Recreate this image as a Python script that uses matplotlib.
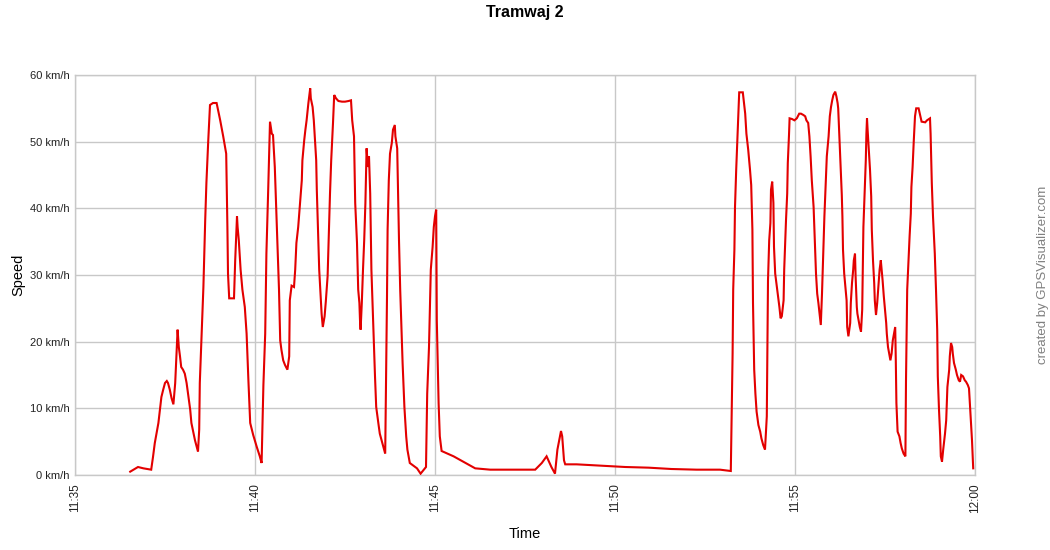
import matplotlib
matplotlib.use("Agg")
import matplotlib.pyplot as plt

# Time in seconds after 11:35:00, speed in km/h
time_s = [92, 105, 114, 127, 130, 133, 139, 142, 144, 147, 150, 153, 155, 158, 161, 164, 167, 168, 171, 173,
          175, 177, 180, 183, 186, 189, 192, 194, 197, 200, 203, 205, 207, 208, 211, 214, 217, 219, 222, 225,
          230, 236, 242, 247, 252, 254, 255, 257, 265, 267, 270, 271, 273, 276, 279, 283, 286, 289, 292, 297,
          303, 308, 311, 314, 317, 319, 322, 325, 328, 330, 333, 336, 340, 342, 344, 347, 350, 354, 357, 358,
          361, 365, 367, 369, 372, 375, 378, 379, 382, 384, 386, 389, 392, 393, 396, 398, 400, 402, 403, 405,
          407, 410, 411, 413, 416, 418, 421, 423, 425, 427, 430, 432, 435, 439, 445, 450, 456, 460, 462, 465,
          467, 470, 472, 474, 475, 476, 478, 480, 482, 484, 486, 488, 490, 492, 494, 497, 500, 502, 504, 506,
          508, 511, 514, 517, 518, 520, 521, 523, 525, 528, 530, 533, 534, 537, 540, 542, 544, 546, 549, 552,
          554, 558, 570, 576, 585, 587, 590, 593, 596, 598, 600, 602, 603, 606, 608, 611, 631, 647, 667, 692,
          742, 767, 778, 786, 794, 800, 804, 810, 812, 815, 817, 836, 875, 917, 956, 994, 1036, 1075, 1093,
          1094, 1096, 1097, 1099, 1100, 1102, 1104, 1106, 1107, 1113, 1115, 1117, 1119, 1122, 1125, 1127, 1129,
          1130, 1132, 1134, 1136, 1139, 1142, 1144, 1147, 1150, 1153, 1154, 1155, 1157, 1159, 1160, 1162, 1164,
          1165, 1167, 1169, 1172, 1174, 1176, 1178, 1181, 1182, 1185, 1187, 1188, 1190, 1191, 1195, 1199, 1203,
          1207, 1210, 1214, 1217, 1219, 1222, 1224, 1226, 1228, 1231, 1233, 1235, 1237, 1239, 1241, 1243, 1245,
          1247, 1249, 1251, 1253, 1256, 1258, 1260, 1262, 1264, 1267, 1269, 1271, 1272, 1275, 1277, 1278, 1279,
          1280, 1282, 1284, 1286, 1287, 1289, 1292, 1293, 1295, 1297, 1298, 1300, 1301, 1303, 1304, 1306, 1308,
          1310, 1312, 1313, 1314, 1316, 1318, 1319, 1320, 1321, 1323, 1325, 1327, 1328, 1330, 1332, 1333, 1335,
          1337, 1339, 1341, 1343, 1344, 1346, 1348, 1350, 1352, 1353, 1355, 1357, 1359, 1361, 1363, 1365, 1367,
          1368, 1369, 1371, 1374, 1376, 1378, 1381, 1384, 1385, 1387, 1389, 1391, 1393, 1394, 1396, 1398, 1400,
          1402, 1406, 1408, 1411, 1417, 1420, 1425, 1426, 1428, 1430, 1433, 1435, 1437, 1438, 1440, 1442, 1443,
          1445, 1447, 1450, 1452, 1454, 1457, 1458, 1460, 1462, 1463, 1465, 1468, 1470, 1473, 1475, 1477, 1480,
          1483, 1485, 1488, 1490, 1493, 1495, 1497]

speed_kmh = [0.5, 1.2, 1.0, 0.8, 2.7, 4.8, 7.8, 10.2, 11.7, 12.8, 13.8, 14.1, 13.8, 12.8, 11.5, 10.6, 13.8, 15.8, 21.8, 19.2,
             17.8, 16.2, 15.8, 15.2, 13.8, 11.8, 9.8, 7.8, 6.5, 5.2, 4.2, 3.5, 6.8, 13.8, 20.8, 28.2, 38.2, 43.8, 50.0, 55.5,
             55.8, 55.8, 53.2, 50.8, 48.2, 37.2, 30.2, 26.5, 26.5, 32.2, 38.8, 37.2, 35.2, 30.8, 27.8, 25.2, 21.2, 14.2, 7.8, 6.0,
             4.2, 2.8, 1.8, 13.5, 21.2, 33.2, 42.8, 53.0, 51.2, 51.0, 46.2, 38.2, 27.8, 20.2, 18.8, 17.2, 16.5, 15.8, 17.8, 26.2,
             28.4, 28.2, 30.8, 34.8, 37.2, 40.8, 44.2, 47.2, 50.2, 51.8, 53.2, 55.8, 58.0, 56.5, 55.2, 53.2, 50.2, 47.2, 42.8, 36.8,
             30.8, 25.8, 24.2, 22.2, 23.8, 26.0, 29.8, 35.8, 42.2, 47.2, 52.8, 57.0, 56.5, 56.1, 56.0, 56.0, 56.1, 56.2, 53.2, 50.8,
             40.8, 34.8, 27.8, 25.8, 23.2, 21.8, 25.8, 30.8, 35.2, 40.8, 49.0, 46.2, 47.8, 42.2, 30.8, 22.8, 14.8, 10.2, 8.8, 7.5,
             6.2, 5.2, 4.2, 3.2, 10.8, 26.8, 36.8, 44.2, 48.2, 49.8, 51.8, 52.5, 50.8, 49.0, 35.2, 27.8, 22.2, 16.8, 10.2, 5.8,
             3.8, 1.8, 1.0, 0.2, 1.2, 12.2, 19.2, 30.8, 34.2, 37.2, 38.8, 39.8, 23.2, 10.8, 5.8, 3.6, 2.8, 2.0, 1.0, 0.8,
             0.8, 0.8, 1.8, 2.8, 1.2, 0.2, 3.8, 6.6, 5.8, 2.2, 1.6, 1.6, 1.4, 1.2, 1.1, 0.9, 0.8, 0.8, 0.6,
             6.5, 18.2, 27.8, 33.8, 40.2, 45.8, 50.5, 54.8, 57.4, 57.4, 55.8, 54.2, 51.2, 48.8, 45.8, 43.5, 36.8,
             25.8, 15.8, 12.2, 9.5, 7.5, 6.5, 5.5, 4.5, 3.8, 8.8, 18.8, 29.2, 35.2, 37.8, 42.8, 44.0, 40.8,
             34.2, 30.2, 28.8, 26.8, 25.2, 23.5, 23.8, 26.2, 30.8, 38.2, 42.2, 46.8, 51.0, 53.5, 53.4, 53.2, 53.5,
             54.2, 54.2, 54.0, 53.8, 53.2, 52.8, 50.8, 47.8, 44.2, 40.2, 35.2, 30.2, 27.2, 25.8, 24.2, 22.5, 27.2,
             33.2, 38.8, 43.2, 47.8, 50.8, 53.8, 55.2, 56.2, 57.0, 57.5, 56.8, 55.8, 55.0, 48.5, 44.5, 42.0, 38.8,
             33.8, 30.2, 28.2, 26.2, 22.2, 20.8, 22.8, 25.8, 28.8, 30.8, 32.2, 33.2, 29.8, 25.2, 24.2, 23.2, 22.2,
             21.5, 24.8, 30.8, 37.2, 42.2, 47.2, 51.2, 53.5, 51.8, 48.8, 45.8, 41.8, 36.8, 32.2, 28.8, 26.2, 24.0,
             25.8, 28.2, 30.8, 32.2, 31.2, 29.2, 26.8, 24.8, 22.8, 21.2, 19.2, 18.2, 17.2, 18.2, 20.2, 21.2, 22.2,
             17.2, 10.8, 6.5, 5.8, 4.8, 4.0, 3.2, 2.8, 14.2, 27.8, 31.8, 35.8, 39.2, 43.2, 46.2, 50.2, 53.8,
             55.0, 55.0, 54.2, 53.0, 52.9, 53.2, 53.5, 51.2, 43.8, 38.8, 33.2, 27.8, 21.8, 14.8, 9.8, 5.8, 2.8,
             2.0, 3.8, 6.2, 8.2, 13.2, 15.8, 17.8, 19.8, 19.2, 18.2, 16.8, 15.8, 15.0, 14.2, 14.0, 15.0, 14.8,
             14.2, 14.0, 13.5, 13.0, 8.2, 5.2, 1.0]

xtick_s = [0, 300, 600, 900, 1200, 1500]
xtick_labels = ["11:35", "11:40", "11:45", "11:50", "11:55", "12:00"]
ytick_vals = [0, 10, 20, 30, 40, 50, 60]
ytick_labels = [f"{v} km/h" for v in ytick_vals]

plt.rcParams["font.family"] = ["Liberation Sans", "DejaVu Sans"]

fig = plt.figure(figsize=(10.5, 5.5), dpi=100)
ax = fig.add_axes([75 / 1050, 75 / 550, 900 / 1050, 400 / 550])

grid_c = "#c8c8c8"
ax.plot(time_s, speed_kmh, color="#e30000", lw=1.5, solid_joinstyle="miter", zorder=3)

ax.set_xlim(0, 1500)
ax.set_ylim(0, 60)
ax.set_xticks(xtick_s)
ax.set_xticklabels(xtick_labels, rotation=90, fontsize=8.5, color="#222222")
ax.set_yticks(ytick_vals)
ax.set_yticklabels(ytick_labels, fontsize=8, color="#222222")
ax.tick_params(axis="x", length=0, pad=6)
ax.tick_params(axis="y", length=0, pad=4)
ax.grid(True, color=grid_c, lw=1)
ax.set_axisbelow(True)
for sp in ax.spines.values():
    sp.set_color(grid_c)
    sp.set_linewidth(1)

ax.set_xlabel("Time", fontsize=10.5, labelpad=10)
ax.set_ylabel("Speed", fontsize=10.5, labelpad=3)
fig.text(0.5, 1 - 12 / 550, "Tramwaj 2", ha="center", va="center", fontsize=11.5, fontweight="bold")
fig.text(1043 / 1050, 0.5, "created by GPSVisualizer.com", rotation=90, ha="center", va="center",
         fontsize=9.5, color="#808080")

fig.savefig("out.png", dpi=100)
